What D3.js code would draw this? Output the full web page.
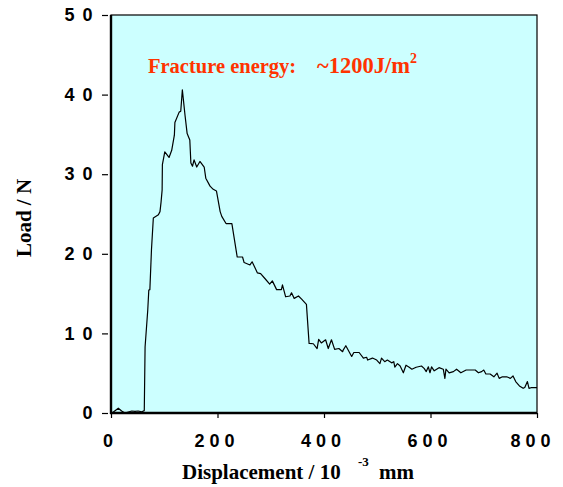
<!DOCTYPE html>
<html>
<head>
<meta charset="utf-8">
<script src="https://cdn.jsdelivr.net/npm/d3@7"></script>
<style>
  body { margin: 0; background: #fff; }
  svg { display: block; font-family: "Liberation Serif", "Times New Roman", serif; }
  .tick text { font-weight: bold; }
</style>
</head>
<body>
<svg width="563" height="487"></svg>
<script>
// displacement (10^-3 mm) and load (N)
const disp = [2, 13.7, 20, 26, 39, 45, 51, 58, 62.5, 64, 69, 71, 73, 76, 79.5, 89, 92, 94, 96, 96.5,
  101, 109, 114, 119, 120, 128, 131, 134, 139, 143, 148, 150, 153, 156, 161, 167, 175, 178, 186, 192,
  198, 205, 208, 216, 227, 237, 247, 250, 261, 265, 275, 281, 289, 298, 303, 311, 320, 322, 328, 336,
  339, 344, 352, 358, 367, 372, 380, 387, 390, 395, 403, 408, 414, 420, 428, 435, 436, 441, 452, 456,
  466, 474, 480, 482, 491, 499, 505, 508, 514, 519, 527, 531, 533, 538, 543, 549, 554, 560, 565, 573,
  583, 588, 592, 596, 599, 602, 607, 616, 624, 627, 629, 635, 643, 649, 657, 667, 674, 684, 690, 696,
  700, 704, 712, 719, 725, 729, 735, 743, 750, 755, 760, 767, 774, 777, 782, 785, 790, 800];
const load = [0, 0.6, 0.25, 0, 0.25, 0.2, 0.25, 0.15, 0.3, 8.3, 12.9, 15.45, 15.5, 20.5, 24.5, 24.9, 25.3, 26.5, 28, 31.2,
  32.8, 32.1, 33, 34.9, 36.5, 37.8, 37.9, 40.6, 37.4, 35.1, 34.3, 31.4, 31.0, 31.8, 30.9, 31.6, 30.9, 29.5, 28.5, 28.1,
  27.9, 25.3, 24.7, 23.8, 23.8, 19.6, 19.6, 18.9, 18.6, 19.0, 17.6, 17.5, 16.9, 16.2, 16.6, 15.5, 15.5, 16.1, 14.6, 14.7,
  15.1, 14.4, 14.7, 14.3, 13.65, 8.75, 8.7, 8.1, 9.25, 8.8, 9.2, 8.1, 9.2, 8.0, 8.1, 7.7, 7.9, 8.45, 7.1, 7.6,
  7.6, 6.9, 7.0, 6.65, 6.9, 6.65, 6.2, 6.9, 6.45, 6.65, 6.3, 6.45, 5.75, 6.2, 5.9, 5.05, 6.0, 5.75, 5.5, 5.75,
  5.9, 5.6, 5.2, 5.8, 5.06, 5.8, 5.3, 5.7, 5.5, 4.35, 5.5, 5.05, 5.2, 5.5, 5.05, 5.4, 5.4, 5.4, 5.05, 5.2,
  5.4, 4.9, 4.9, 4.55, 5.0, 4.35, 4.55, 4.55, 4.35, 4.65, 3.95, 3.4, 3.1, 3.2, 3.95, 3.1, 3.2, 3.2];

const xTicks = [0, 200, 400, 600, 800];
const yTicks = [0, 10, 20, 30, 40, 50];
const spaced = v => String(v).split('').join(' ');

const svg = d3.select('svg');
const plotL = 111, plotR = 537, plotT = 15, plotB = 413;

const x = d3.scaleLinear().domain([0, 800]).range([plotL, plotR]);
const y = d3.scaleLinear().domain([0, 50]).range([plotB, plotT]);

// plot background
svg.append('rect')
  .attr('x', plotL).attr('y', plotT)
  .attr('width', plotR - plotL).attr('height', plotB - plotT)
  .attr('fill', '#ccffff')
  .attr('stroke', '#000').attr('stroke-width', 1.2);

// curve
const pts = disp.map((d, i) => [d, load[i]]);
svg.append('path')
  .datum(pts)
  .attr('fill', 'none')
  .attr('stroke', '#000')
  .attr('stroke-width', 1.2)
  .attr('stroke-linejoin', 'round')
  .attr('d', d3.line().x(d => x(d[0])).y(d => y(d[1])));

// y axis
const gy = svg.append('g')
  .attr('transform', `translate(${plotL},0)`)
  .call(d3.axisLeft(y).tickValues(yTicks).tickSize(0).tickPadding(17).tickFormat(spaced));
gy.select('.domain').remove();
gy.selectAll('.tick line').attr('x1', -3).attr('x2', -9).attr('stroke', '#000').attr('stroke-width', 1.2);
gy.selectAll('.tick text').attr('font-size', 18).attr('fill', '#000').attr('letter-spacing', 1.5);

// x axis
const gx = svg.append('g')
  .attr('transform', `translate(0,${plotB})`)
  .call(d3.axisBottom(x).tickValues(xTicks).tickSize(5).tickPadding(16).tickFormat(spaced));
gx.select('.domain').remove();
gx.selectAll('.tick line').attr('stroke', '#000').attr('stroke-width', 1.2);
gx.selectAll('.tick text').attr('font-size', 18).attr('fill', '#000').attr('dx', d => d === 800 ? -7 : -3.5);

// heavy left and bottom axis lines
svg.append('line').attr('x1', plotL).attr('x2', plotL).attr('y1', plotT).attr('y2', plotB + 1)
  .attr('stroke', '#000').attr('stroke-width', 2.4);
svg.append('line').attr('x1', plotL - 1).attr('x2', plotR).attr('y1', plotB).attr('y2', plotB)
  .attr('stroke', '#000').attr('stroke-width', 2.4);

// axis titles
svg.append('text')
  .attr('transform', 'translate(31,218) rotate(-90)')
  .attr('text-anchor', 'middle')
  .attr('font-size', 21).attr('font-weight', 'bold')
  .text('Load / N');

const xt = svg.append('text')
  .attr('x', 182).attr('y', 479)
  .attr('font-size', 21).attr('font-weight', 'bold');
xt.append('tspan').text('Displacement / 10');
xt.append('tspan').attr('x', 358).attr('dy', -13).attr('font-size', 13).text('-3');
xt.append('tspan').attr('x', 379).attr('dy', 13).text('mm');

// annotation
const ann = svg.append('text')
  .attr('x', 148).attr('y', 73)
  .attr('fill', '#ff3300')
  .attr('font-weight', 'bold');
ann.append('tspan').attr('font-size', 20.5).text('Fracture energy:');
ann.append('tspan').attr('x', 317).attr('font-size', 22.5).text('~1200J/m');
ann.append('tspan').attr('dy', -10).attr('font-size', 14).text('2');
</script>
</body>
</html>
